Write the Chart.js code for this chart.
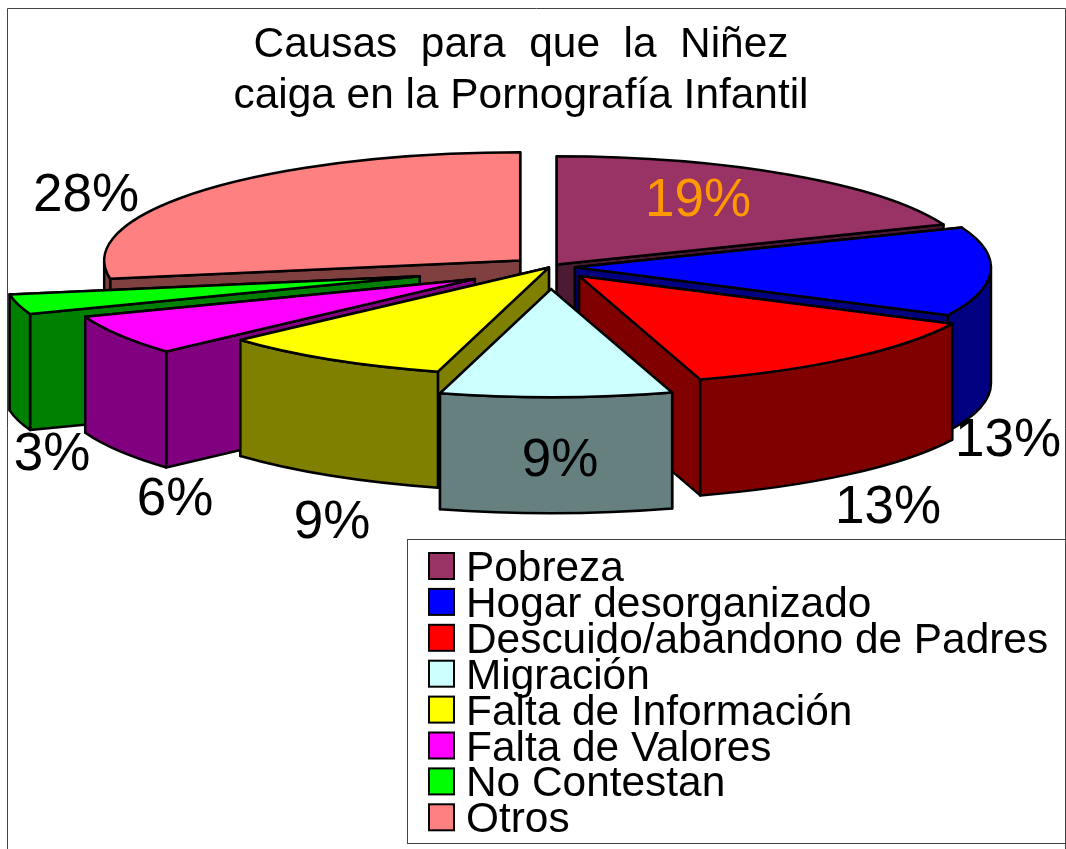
<!DOCTYPE html>
<html>
<head>
<meta charset="utf-8">
<style>
  html, body { margin: 0; padding: 0; background: #fff; }
  #wrap { position: relative; width: 1066px; height: 849px; }
</style>
<script src="https://cdn.jsdelivr.net/npm/chart.js@4"></script>
</head>
<body>
<div id="wrap"><canvas id="myChart" width="1066" height="849"></canvas></div>
<script>
const categorias = [
  "Pobreza", "Hogar desorganizado", "Descuido/abandono de Padres", "Migración",
  "Falta de Información", "Falta de Valores", "No Contestan", "Otros"
];
// printed as whole percentages, the decimals are estimated from the slice angles
const porcentajes = [19, 13.3, 13, 9, 9, 6, 3, 27.7];
const coloresCara = ["#993366", "#0000FF", "#FF0000", "#CCFFFF", "#FFFF00", "#FF00FF", "#00FF00", "#FF8080"];
const coloresPared = ["#4D1A33", "#000080", "#800000", "#668080", "#808000", "#800080", "#008000", "#804040"];
const coloresEtiqueta = ["#FF9900", "#000", "#000", "#000", "#000", "#000", "#000", "#000"];
// separation of each slice, in pixels on screen
const separacion = [12, 25, 45, 85, 2, 88, 135, 39];
// where each percentage is written
const posEtiqueta = [[698, 201], [1008, 441], [888, 508], [560, 461], [332, 523], [175, 500], [52, 455], [86, 196]];
const ordenPintado = [7, 0, 1, 6, 5, 4, 2, 3];

const FONT = '"Liberation Sans", Arial, sans-serif';
const escalaX = 1.3;          // chart units -> screen, horizontal
const escalaY = 1.3 * 0.26;   // the tilt of the pie
const centroX = 550, centroY = 267;
const alto = 116;             // wall height

const pie3d = {
  id: 'pie3d',
  beforeDatasetsDraw(chart) {
    const ctx = chart.ctx;
    const arcs = chart.getDatasetMeta(0).data;
    ordenPintado.forEach(i => drawSlice(ctx, arcs[i], i));
    return false;
  },
  afterDraw(chart) {
    const ctx = chart.ctx;
    const arcs = chart.getDatasetMeta(0).data;

    // frame
    ctx.save();
    ctx.strokeStyle = '#444';
    ctx.lineWidth = 1;
    ctx.beginPath();
    ctx.moveTo(7.5, 849);
    ctx.lineTo(7.5, 8.5);
    ctx.lineTo(1065.5, 8.5);
    ctx.lineTo(1065.5, 849);
    ctx.stroke();

    // percentages
    ctx.font = '53px ' + FONT;
    ctx.textAlign = 'center';
    ctx.textBaseline = 'middle';
    arcs.forEach((arc, i) => {
      ctx.fillStyle = coloresEtiqueta[i];
      ctx.fillText(Math.round(porcentajes[i]) + '%', posEtiqueta[i][0], posEtiqueta[i][1]);
    });

    // legend
    ctx.fillStyle = '#fff';
    ctx.strokeStyle = '#444';
    ctx.fillRect(407.5, 539.5, 658, 304);
    ctx.strokeRect(407.5, 539.5, 658, 304);
    ctx.textAlign = 'left';
    ctx.textBaseline = 'alphabetic';
    ctx.font = '42.4px ' + FONT;
    categorias.forEach((cat, i) => {
      const y = 566 + i * 35.9;
      ctx.fillStyle = coloresCara[i];
      ctx.strokeStyle = '#000';
      ctx.lineWidth = 2;
      ctx.fillRect(429, y - 13, 25, 26);
      ctx.strokeRect(429, y - 13, 25, 26);
      ctx.fillStyle = '#000';
      ctx.fillText(cat, 466, y + 15);
    });
    ctx.restore();
  }
};

function drawSlice(ctx, arc, i) {
  const rx = arc.outerRadius * escalaX;
  const ry = arc.outerRadius * escalaY;
  const a1 = arc.startAngle, a2 = arc.endAngle;
  const mid = (a1 + a2) / 2;
  // Chart.js moves an arc by offset / 4
  const off = arc.options.offset / 4;
  const px = centroX + Math.cos(mid) * off * escalaX;
  const py = centroY + Math.sin(mid) * off * escalaY;
  const esquinas = [a1, a2]
    .map(a => [px + Math.cos(a) * rx, py + Math.sin(a) * ry])
    .sort((p, q) => p[1] - q[1]);   // the wall nearer the viewer goes last

  ctx.save();
  ctx.lineWidth = 2.5;
  ctx.lineJoin = 'round';
  ctx.strokeStyle = '#000';
  ctx.fillStyle = coloresPared[i];

  // the two cut walls
  esquinas.forEach(p => {
    ctx.beginPath();
    ctx.moveTo(px, py);
    ctx.lineTo(p[0], p[1]);
    ctx.lineTo(p[0], p[1] + alto);
    ctx.lineTo(px, py + alto);
    ctx.closePath();
    ctx.fill();
    ctx.stroke();
  });

  // rim wall, only the front half can be seen
  const ini = Math.max(a1, 0), fin = Math.min(a2, Math.PI);
  if (ini < fin) {
    ctx.beginPath();
    ctx.ellipse(px, py, rx, ry, 0, ini, fin);
    ctx.ellipse(px, py + alto, rx, ry, 0, fin, ini, true);
    ctx.closePath();
    ctx.fill();
    ctx.stroke();
  }

  // top face
  ctx.fillStyle = arc.options.backgroundColor;
  ctx.beginPath();
  ctx.moveTo(px, py);
  ctx.ellipse(px, py, rx, ry, 0, a1, a2);
  ctx.closePath();
  ctx.fill();
  ctx.stroke();
  ctx.restore();
}

new Chart(document.getElementById('myChart'), {
  type: 'pie',
  data: {
    labels: categorias,
    datasets: [{
      data: porcentajes,
      backgroundColor: coloresCara,
      borderWidth: 0,
      offset: separacion.map(s => s * 4 / escalaX)
    }]
  },
  options: {
    responsive: false,
    animation: false,
    events: [],
    radius: 320,
    layout: { padding: { right: 24 } },
    plugins: {
      legend: { display: false },
      tooltip: { enabled: false },
      title: {
        display: true,
        text: ["Causas  para  que  la  Niñez", "caiga en la Pornografía Infantil"],
        color: '#000',
        font: { family: FONT, size: 42.4, weight: 'normal', lineHeight: 1.2 },
        padding: { top: 20, bottom: 0 }
      }
    }
  },
  plugins: [pie3d]
});
</script>
</body>
</html>
